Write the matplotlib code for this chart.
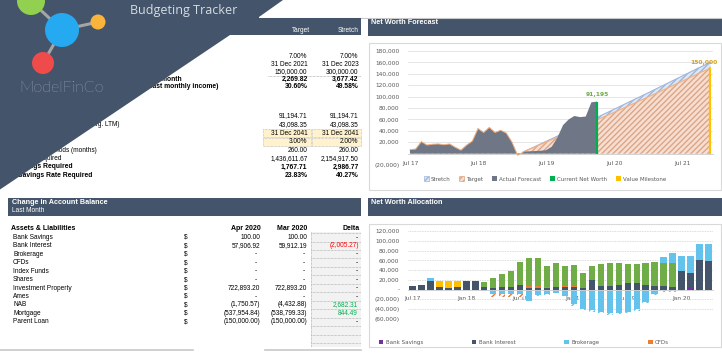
import matplotlib
matplotlib.use('Agg')
import matplotlib.pyplot as plt
from matplotlib.patches import Polygon, Rectangle, Circle, Patch

# ---------------- DATA ----------------
summary_headers = ['Target', 'Stretch']
summary_labels = ['', '', '', 'Required per month', '(% of last monthly income)',
                  '', 'Annual Savings (avg. LTM)', '', '', 'Forecast Periods (months)',
                  'Net Worth Required', 'Savings Required', 'Savings Rate Required']
summary_target = ['7.00%', '31 Dec 2021', '150,000.00', '2,269.82', '30.60%', '91,194.71', '43,098.35',
                  '31 Dec 2041', '3.00%', '260.00', '1,436,611.67', '1,767.71', '23.83%']
summary_stretch = ['7.00%', '31 Dec 2023', '300,000.00', '3,677.42', '49.58%', '91,194.71', '43,098.35',
                   '31 Dec 2041', '2.00%', '260.00', '2,154,917.50', '2,986.77', '40.27%']
summary_bold = [False, False, False, True, True, False, False, False, False, False, False, True, True]
summary_input = [False] * 7 + [True, True] + [False] * 4

accounts = ['Bank Savings', 'Bank Interest', 'Brokerage', 'CFDs', 'Index Funds', 'Shares',
            'Investment Property', 'Ames', 'NAB', 'Mortgage', 'Parent Loan']
apr_2020 = [100.00, 57906.92, 0, 0, 0, 0, 722893.20, 0, -1750.57, -537954.84, -150000.00]
mar_2020 = [100.00, 59912.19, 0, 0, 0, 0, 722893.20, 0, -4432.88, -538799.33, -150000.00]

fc_xlabels = ['Jul 17', 'Jul 18', 'Jul 19', 'Jul 20', 'Jul 21']
fc_ylabels = ['(20,000)', '', '20,000', '40,000', '60,000', '80,000', '100,000',
              '120,000', '140,000', '160,000', '180,000']
# monthly actual net worth, Jul 17 .. Apr 20
fc_actual = [7000, 8000, 21000, 15000, 16500, 17000, 15500, 17000, 11000, 6000,
             15000, 22000, 44000, 37000, 46000, 37000, 41000, 36000, 20000, -3000,
             3000, 4000, 4500, 5000, 6000, 12000, 28000, 50000, 60000, 66000,
             64000, 65000, 90000, 91195]
# forecasts from month 20 (Mar 19) .. month 53 (Dec 21)
fc_target = [3000, 7300, 11600, 15900, 20200, 24500, 28800, 33100, 37400, 41700,
             46000, 50300, 54700, 59100, 63500, 67900, 72300, 76800, 81300, 85800,
             90300, 94800, 99300, 103900, 108500, 113100, 117700, 122300, 127000, 131700,
             136400, 141100, 145500, 150000]
fc_stretch = [3000, 7600, 12200, 16800, 21400, 26000, 30700, 35400, 40100, 44800,
              49500, 54200, 58900, 63600, 68300, 73000, 77800, 82600, 87400, 92200,
              97000, 101800, 106600, 111500, 116400, 121300, 126200, 131100, 136000, 140900,
              145800, 150700, 155400, 160000]
current_net_worth = 91195
value_milestone = 150000

alloc_xlabels = ['Jul 17', 'Jan 18', 'Jul 18', 'Jan 19', 'Jul 19', 'Jan 20']
alloc_ylabels = ['(60,000)', '(40,000)', '(20,000)', '-', '20,000', '40,000', '60,000',
                 '80,000', '100,000', '120,000']
bank_savings = [0] * 31 + [6000, 0, 0]
bank_interest = [7000, 10000, 17500, 5000, 4000, 4500, 17500, 17500, 4500, 3500,
                 6000, 6000, 10000, 4000, 4000, 4000, 5000, 4500, 4500, 4000,
                 20000, 8000, 8500, 10500, 14000, 14000, 10000, 8000, 8000, 5000,
                 37500, 29000, 60000, 58000]
cfds = [0] * 13 + [2500, 2500, 1500, 0, 2000, 3000] + [0] * 15
index_funds = [0, 0, 0, 12500, 14000, 13500] + [0] * 28
shares = [0] * 8 + [10500, 19500, 26500, 32500, 46000, 58500, 58500, 42000, 49500, 41000,
                    43500, 31000, 27500, 45000, 46000, 44000, 39000, 39000, 44500, 48500,
                    47500, 49500] + [0] * 4
brokerage = [0, 0, 5500, 0, 0, 0, 0, 0, -3000, -9000,
             -9000, -9000, -8000, -24000, -10000, -9000, -6000, -12000, -30000, -40000,
             -42000, -45000, -48000, -47000, -45000, -40000, -25000, -8000, 10500, 21000,
             31300, 33800, 33300, 35300]
ames = [0] * 14 + [-2000, -2000, 0, -1500, -2500, -2500, -3000, -3000, -3000, -3000,
                   -3000, -3000, -3000, -3000, -4000, -4000, -2000, -2000, -2000, -1500]
nab = [0, -1500, 0, -1500, -1500, -1500, 0, 0, 0, -6000, -6000, -5000, -6000] + [0] * 21

# ---------------- LAYOUT / STYLE ----------------
W, H = 722, 361
NAVY = '#44546A'
FONT = 'Liberation Sans'
CH_FONT = 'DejaVu Sans'
TXT_GREY = '#595959'

fig = plt.figure(figsize=(W / 100, H / 100), dpi=100)
fig.patch.set_facecolor('white')
bg = fig.add_axes([0, 0, 1, 1])
bg.set_xlim(0, W)
bg.set_ylim(H, 0)
bg.axis('off')
bg.set_zorder(0)


def T(x, y, s, size=4.7, ha='left', color='black', weight='normal', family=FONT, z=3, va='center'):
    bg.text(x, y, s, fontsize=size, ha=ha, va=va, color=color, fontweight=weight,
            family=family, zorder=z)


def fx(px):
    return px / W


def fy(py):
    return 1 - py / H


# ---- top-left summary table ----
summary_y = [56.7, 64.3, 71.7, 79.3, 86.9, 116, 124.7, 133.3, 141.7, 150, 158.3, 167, 175.7]
summary_label_end = [0, 0, 0, 182, 218, 0, 119, 0, 0, 97, 61, 73, 92]
col1_r, col2_r = 307.5, 358.5
for i, y in enumerate(summary_y):
    w = 'bold' if summary_bold[i] else 'normal'
    sz = 4.9 if summary_bold[i] else 4.7
    if summary_input[i]:
        for x0, x1 in [(263, 310.5), (311.5, 361)]:
            bg.add_patch(Rectangle((x0, y - 3.9), x1 - x0, 7.8, facecolor='#FFF2CC',
                                   edgecolor='#B0B0B0', lw=0.5, ls=(0, (1, 1)), zorder=2))
    T(col1_r, y, summary_target[i], size=sz, ha='right', weight=w)
    T(col2_r, y, summary_stretch[i], size=sz, ha='right', weight=w)
    if summary_labels[i]:
        T(summary_label_end[i], y, summary_labels[i], size=sz, ha='right', weight=w)
bg.plot([268, 361], [75.6, 75.6], color='#9A9A9A', lw=0.5, ls=(0, (1, 1)), zorder=2)

# navy banner / triangle
bg.add_patch(Polygon([(0, 0), (283, 0), (259, 17), (259, 18), (361, 18), (361, 35),
                      (230, 35), (0, 189.5)], closed=True, facecolor=NAVY, edgecolor='none', zorder=5))
bg.plot([259, 722], [17.5, 17.5], color='#C8C8C8', lw=0.8, zorder=4)
T(310, 31, summary_headers[0], size=4.7, ha='right', color='white', z=6)
T(359, 31, summary_headers[1], size=4.7, ha='right', color='white', z=6)
T(130, 10.5, 'Budgeting Tracker', size=9, color='#D6DCE4', family='Open Sans', z=6)

# logo
c_green, c_blue, c_yel, c_red = (31, 1), (62, 30), (98, 22), (43, 63)
for a, b in [(c_green, c_blue), (c_blue, c_yel), (c_blue, c_red)]:
    bg.plot([a[0], b[0]], [a[1], b[1]], color='#A5A5A5', lw=2.2, zorder=6, solid_capstyle='butt')
bg.add_patch(Circle(c_green, 14, facecolor='#92D050', edgecolor='none', zorder=7))
bg.add_patch(Circle(c_blue, 17, facecolor='#25A9F0', edgecolor='none', zorder=7))
bg.add_patch(Circle(c_yel, 7.5, facecolor='#F9B43C', edgecolor='none', zorder=7))
bg.add_patch(Circle(c_red, 11, facecolor='#EF4B4B', edgecolor='none', zorder=7))
bg.text(19, 92, 'ModelFinCo', fontsize=11.5, color='#E8EBF0', family='Lato', fontweight='light',
        ha='left', va='baseline', zorder=7)

# ---- bottom-left account table ----
bg.add_patch(Rectangle((8, 198), 353, 18, facecolor=NAVY, edgecolor='none', zorder=2))
T(12, 202.5, 'Change in Account Balance', size=5.2, color='white', weight='bold')
T(12, 210.8, 'Last Month', size=4.7, color='white')
T(11, 228.3, 'Assets & Liabilities', size=5.0, weight='bold')
T(260.5, 228.3, 'Apr 2020', size=5.0, weight='bold', ha='right')
T(307, 228.3, 'Mar 2020', size=5.0, weight='bold', ha='right')
T(360, 228.3, 'Delta', size=5.0, weight='bold', ha='right')

row_h = 8.45
bg.add_patch(Rectangle((311, 232), 50, 115, facecolor='#F2F2F2', edgecolor='none', zorder=1))
bg.plot([311, 311], [232, 347], color='#A0A0A0', lw=0.5, ls=(0, (1, 1)), zorder=2)
for k in range(14):
    yy = 233.1 + row_h * k
    bg.plot([311, 361], [yy, yy], color='#A0A0A0', lw=0.5, ls=(0, (1, 1)), zorder=2)


def acct(v):
    if abs(v) < 0.005:
        return '-'
    s = f'{abs(v):,.2f}'
    return f'({s})' if v < 0 else s


for i, name in enumerate(accounts):
    y = 237.3 + row_h * i
    T(13, y, name)
    T(186, y, '$', ha='center')
    a = acct(apr_2020[i])
    T(256.5 if a == '-' else 260.5, y, a, ha='right')
    m = acct(mar_2020[i])
    T(305 if m == '-' else 307, y, m, ha='right')
    d = round(apr_2020[i] - mar_2020[i], 2)
    ds = acct(d)
    if ds == '-':
        T(357.5, y, ds, ha='right')
    elif d < 0:
        T(359.5, y, ds, ha='right', color='#FF0000')
    else:
        T(357.5, y, ds, ha='right', color='#00B050')

bg.plot([0, 193], [349.5, 349.5], color='#C8C8C8', lw=1.2, zorder=2)
bg.plot([265, 361], [349.5, 349.5], color='#C8C8C8', lw=1.2, zorder=2)

# ---- right panel frames ----
for top, title in [(18, 'Net Worth Forecast'), (198, 'Net Worth Allocation')]:
    bg.add_patch(Rectangle((368, top), 354, 17.5, facecolor=NAVY, edgecolor='none', zorder=2))
    T(371, top + 5, title, size=5.2, color='white', weight='bold')
bg.add_patch(Rectangle((368.5, 43), 352.5, 147, facecolor='white', edgecolor='#D9D9D9', lw=0.8, zorder=1))
bg.add_patch(Rectangle((368.5, 224), 352.5, 123, facecolor='white', edgecolor='#D9D9D9', lw=0.8, zorder=1))

# ---------------- NET WORTH FORECAST ----------------
ax1 = fig.add_axes([fx(408), fy(165), fx(713) - fx(408), (165 - 51) / H])
ax1.set_facecolor('none')
ax1.set_zorder(2)
n_act = len(fc_actual)
x_act = list(range(n_act))
start = 20
x_fc = list(range(start, start + len(fc_target)))
x_full = list(range(start)) + x_fc
target_full = fc_actual[:start] + fc_target
stretch_full = fc_actual[:start] + fc_stretch

ax1.fill_between(x_full, 0, stretch_full, facecolor='#DFE7F3', edgecolor='#9FB6DC',
                 hatch='//////', lw=0, zorder=1)
ax1.plot(x_fc, fc_stretch, color='#9FB6DC', lw=0.8, zorder=1.5)
ax1.fill_between(x_full, 0, target_full, facecolor='#F6DFD2', edgecolor='#DDA585',
                 hatch='//////', lw=0, zorder=2)
ax1.plot(x_fc, fc_target, color='#F4B183', lw=0.8, zorder=2.5)
ax1.fill_between(x_act, 0, fc_actual, facecolor='#6F7787', lw=0, zorder=3)
ax1.plot(x_act[:start + 1], fc_actual[:start + 1], color='#F4B183', lw=0.7, zorder=3.5)

x_now = n_act - 1
x_ms = x_fc[-1]
ax1.plot([x_now, x_now], [0, current_net_worth], color='#00B050', lw=1.6, zorder=5,
         solid_capstyle='butt')
ax1.plot([x_ms, x_ms], [0, value_milestone], color='#FFC000', lw=1.6, zorder=5,
         solid_capstyle='butt')
ax1.annotate(f'{current_net_worth:,}', (x_now, current_net_worth), xytext=(0, 3),
             textcoords='offset points', ha='center', va='bottom', fontsize=4.3,
             fontweight='bold', color='#70AD47', family=CH_FONT, zorder=6)
ax1.annotate(f'{value_milestone:,}', (x_ms, value_milestone), xytext=(-5, 2),
             textcoords='offset points', ha='center', va='bottom', fontsize=4.3,
             fontweight='bold', color='#D4A017', family=CH_FONT, zorder=6)

ax1.set_xlim(-0.35, 53.45)
ax1.set_ylim(-20000, 180000)
ax1.set_yticks(list(range(-20000, 180001, 20000)))
ax1.set_yticklabels(fc_ylabels)
ax1.set_xticks([0, 12, 24, 36, 48])
ax1.set_xticklabels(fc_xlabels)
ax1.yaxis.grid(True, color='#E2E2E2', lw=0.6)
ax1.set_axisbelow(True)
for s in ['left', 'right', 'top']:
    ax1.spines[s].set_visible(False)
ax1.spines['bottom'].set_position(('data', 0))
ax1.spines['bottom'].set_color('#D0D0D0')
ax1.spines['bottom'].set_linewidth(0.6)
ax1.tick_params(axis='y', length=0, labelsize=4.2, labelcolor=TXT_GREY, pad=6.2)
ax1.tick_params(axis='x', length=0, labelsize=4.2, labelcolor=TXT_GREY, pad=5.2)
for lab in ax1.get_xticklabels() + ax1.get_yticklabels():
    lab.set_family(CH_FONT)

fc_handles = [Patch(facecolor='#DFE7F3', edgecolor='#9FB6DC', hatch='//////', lw=0.5),
              Patch(facecolor='#F6DFD2', edgecolor='#DDA585', hatch='//////', lw=0.5),
              Patch(facecolor='#6F7787'), Patch(facecolor='#00B050'), Patch(facecolor='#FFC000')]
fc_names = ['Stretch', 'Target', 'Actual Forecast', 'Current Net Worth', 'Value Milestone']
leg1 = ax1.legend(fc_handles, fc_names, loc='center', bbox_to_anchor=(fx(545), fy(179)),
                  bbox_transform=fig.transFigure, ncol=5, frameon=False,
                  prop={'family': CH_FONT, 'size': 4.0}, handlelength=0.9, handleheight=0.9,
                  handletextpad=0.35, columnspacing=1.6, borderpad=0)
for t in leg1.get_texts():
    t.set_color(TXT_GREY)

# ---------------- NET WORTH ALLOCATION ----------------
ax2 = fig.add_axes([fx(408), fy(319), fx(713) - fx(408), (319 - 231) / H])
ax2.set_facecolor('none')
ax2.set_zorder(2)
n = len(bank_interest)
xb = list(range(n))
series = [
    (bank_savings, dict(color='#7030A0')),
    (bank_interest, dict(color='#44546A')),
    (cfds, dict(color='#ED7D31')),
    (index_funds, dict(color='#FFC000')),
    (shares, dict(color='#70AD47')),
    (brokerage, dict(color='#63C3EC')),
    (ames, dict(facecolor='white', edgecolor='#63C3EC', hatch='//////', lw=0)),
    (nab, dict(facecolor='white', edgecolor='#E2793A', hatch='//////', lw=0)),
]
pos_b = [0.0] * n
neg_b = [0.0] * n
for vals, style in series:
    bottoms = []
    for i, v in enumerate(vals):
        if v >= 0:
            bottoms.append(pos_b[i])
            pos_b[i] += v
        else:
            bottoms.append(neg_b[i])
            neg_b[i] += v
    ax2.bar(xb, vals, bottom=bottoms, width=0.72, zorder=2, **style)

ax2.set_xlim(-0.5, n - 0.5)
ax2.set_ylim(-60000, 120000)
ax2.set_yticks(list(range(-60000, 120001, 20000)))
ax2.set_yticklabels(alloc_ylabels)
ax2.set_xticks([0, 6, 12, 18, 24, 30])
ax2.set_xticklabels(alloc_xlabels)
ax2.yaxis.grid(True, color='#D0D0D0', lw=0.6, ls=(0, (1, 1)))
ax2.set_axisbelow(True)
for s in ['left', 'right', 'top']:
    ax2.spines[s].set_visible(False)
ax2.spines['bottom'].set_position(('data', 0))
ax2.spines['bottom'].set_color('#D0D0D0')
ax2.spines['bottom'].set_linewidth(0.6)
ax2.tick_params(axis='y', length=0, labelsize=4.2, labelcolor=TXT_GREY, pad=6.2)
ax2.tick_params(axis='x', length=0, labelsize=4.2, labelcolor=TXT_GREY, pad=4.6)
for lab in ax2.get_xticklabels() + ax2.get_yticklabels():
    lab.set_family(CH_FONT)

al_handles = [Patch(facecolor='#7030A0'), Patch(facecolor='#44546A'),
              Patch(facecolor='#63C3EC'), Patch(facecolor='#ED7D31')]
al_names = ['Bank Savings', 'Bank Interest', 'Brokerage', 'CFDs']
leg2 = ax2.legend(al_handles, al_names, loc='lower left', mode='expand',
                  bbox_to_anchor=(fx(379), fy(345), fx(669) - fx(379), 8 / H),
                  bbox_transform=fig.transFigure, ncol=4, frameon=False,
                  prop={'family': CH_FONT, 'size': 4.0}, handlelength=0.8, handleheight=0.8,
                  handletextpad=0.4, borderpad=0, borderaxespad=0)
for t in leg2.get_texts():
    t.set_color(TXT_GREY)

fig.savefig('out.png', dpi=100, facecolor='white')
